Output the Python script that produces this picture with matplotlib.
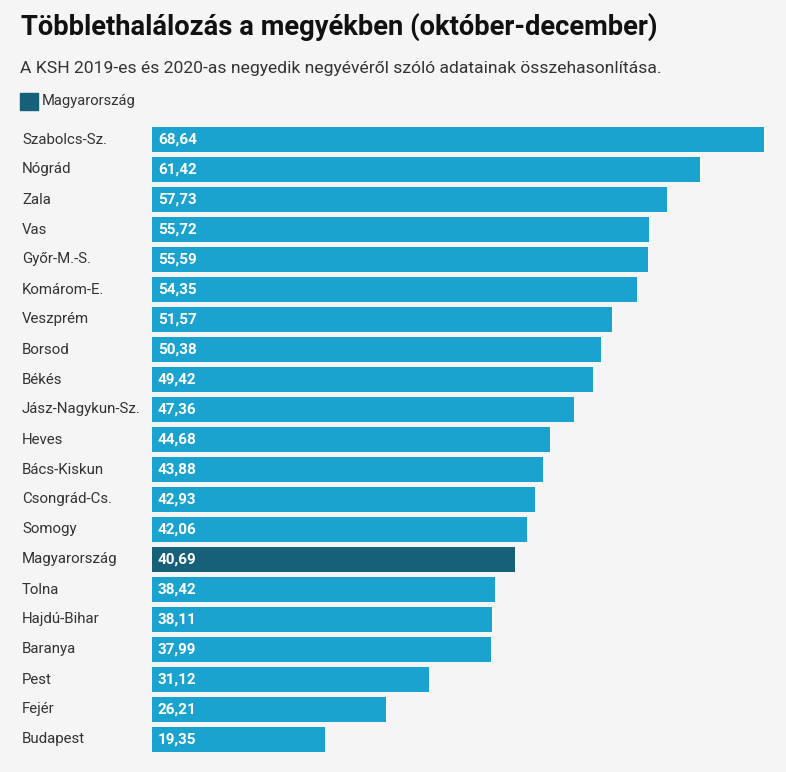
import matplotlib.pyplot as plt

plt.rcParams['font.family'] = ['Roboto', 'DejaVu Sans']

megyek = ["Szabolcs-Sz.", "Nógrád", "Zala", "Vas", "Győr-M.-S.", "Komárom-E.",
          "Veszprém", "Borsod", "Békés", "Jász-Nagykun-Sz.", "Heves", "Bács-Kiskun",
          "Csongrád-Cs.", "Somogy", "Magyarország", "Tolna", "Hajdú-Bihar",
          "Baranya", "Pest", "Fejér", "Budapest"]
ertekek = [68.64, 61.42, 57.73, 55.72, 55.59, 54.35, 51.57, 50.38, 49.42, 47.36,
           44.68, 43.88, 42.93, 42.06, 40.69, 38.42, 38.11, 37.99, 31.12, 26.21, 19.35]
kiemelt = "Magyarország"

bg = "#f5f5f5"
kek = "#1aa3cf"
sotet = "#17607a"

fig = plt.figure(figsize=(7.86, 7.72), dpi=100, facecolor=bg)
W, H = 786, 772
ax = fig.add_axes([152 / W, 1 - 754.5 / H, 612 / W, 630 / H])
ax.set_facecolor(bg)

pos = list(range(len(megyek)))
colors = [sotet if m == kiemelt else kek for m in megyek]
ax.barh(pos, ertekek, height=25 / 30, color=colors)
ax.set_xlim(0, max(ertekek))
ax.set_ylim(len(megyek) - 0.5, -0.5)
ax.axis("off")

for i, (m, v) in enumerate(zip(megyek, ertekek)):
    ax.text(6 / 612 * max(ertekek), i, f"{v:.2f}".replace(".", ","), color="white",
            fontsize=11, fontweight="bold", va="center", ha="left")
    ax.annotate(m, xy=(0, i), xycoords="data", xytext=(22 / W, 0),
                textcoords=("figure fraction", "offset points"),
                fontsize=10.85, color="#333333", va="center", ha="left")

fig.text(21 / W, 1 - 27 / H, "Többlethalálozás a megyékben (október-december)",
         fontsize=19.7, fontweight="bold", color="#111111", va="center", ha="left")
fig.text(20 / W, 1 - 68 / H, "A KSH 2019-es és 2020-as negyedik negyévéről szóló adatainak összehasonlítása.",
         fontsize=12.6, color="#333333", va="center", ha="left")
fig.patches.append(plt.Rectangle((20 / W, 1 - 110 / H), 18 / W, 17 / H,
                                 transform=fig.transFigure, color=sotet))
fig.text(42 / W, 1 - 101 / H, kiemelt, fontsize=10.6, color="#333333", va="center", ha="left")

fig.savefig("out.png", dpi=100, facecolor=bg)
